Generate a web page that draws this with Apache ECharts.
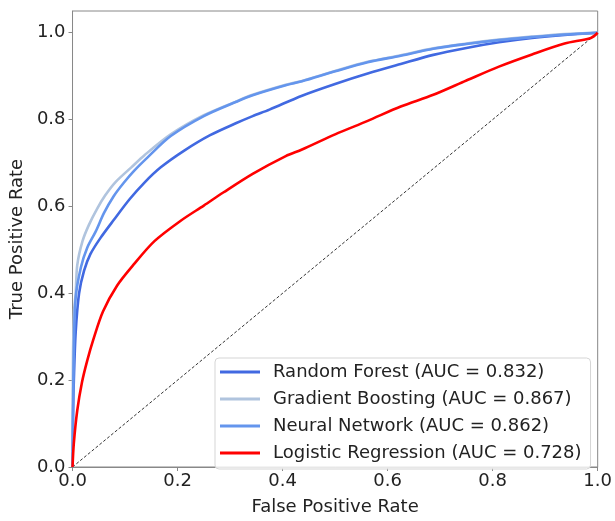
<!DOCTYPE html>
<html>
<head>
<meta charset="utf-8">
<script src="https://cdn.jsdelivr.net/npm/echarts@6/dist/echarts.min.js"></script>
<style>
html,body{margin:0;padding:0;background:#fff;}
#chart{width:615px;height:521px;}
</style>
</head>
<body>
<div id="chart"></div>
<script>
const seriesNames = [
  'Random Forest (AUC = 0.832)',
  'Gradient Boosting (AUC = 0.867)',
  'Neural Network (AUC = 0.862)',
  'Logistic Regression (AUC = 0.728)'
];
const tickValues = [0, 0.2, 0.4, 0.6, 0.8, 1.0];

const rfROC = [[0,0],[0.0005,0.06],[0.001,0.12],[0.0025,0.20],[0.006,0.31],[0.0125,0.40],[0.022,0.452],[0.034,0.49],[0.053,0.527],[0.078,0.568],[0.109,0.617],[0.137,0.655],[0.168,0.69],[0.212,0.728],[0.262,0.764],[0.312,0.792],[0.343,0.808],[0.375,0.823],[0.437,0.855],[0.5,0.882],[0.562,0.906],[0.625,0.928],[0.687,0.949],[0.75,0.965],[0.812,0.978],[0.875,0.988],[0.937,0.995],[1,1]];
const gbROC = [[0,0],[0.0005,0.15],[0.001,0.265],[0.003,0.36],[0.006,0.40],[0.009,0.465],[0.019,0.52],[0.031,0.557],[0.047,0.595],[0.062,0.625],[0.081,0.655],[0.112,0.69],[0.137,0.718],[0.187,0.766],[0.25,0.81],[0.312,0.842],[0.343,0.857],[0.406,0.88],[0.437,0.889],[0.5,0.912],[0.562,0.933],[0.625,0.948],[0.687,0.964],[0.75,0.975],[0.812,0.984],[0.875,0.991],[0.937,0.997],[1,1]];
const nnROC = [[0,0],[0.0005,0.07],[0.001,0.14],[0.0025,0.27],[0.006,0.39],[0.016,0.46],[0.028,0.505],[0.044,0.542],[0.060,0.585],[0.078,0.623],[0.098,0.655],[0.118,0.683],[0.143,0.713],[0.187,0.762],[0.25,0.808],[0.312,0.841],[0.343,0.856],[0.406,0.879],[0.437,0.888],[0.5,0.911],[0.562,0.932],[0.625,0.947],[0.687,0.963],[0.75,0.974],[0.812,0.983],[0.875,0.990],[0.937,0.996],[1,1]];
const lrROC = [[0,0],[0.0025,0.055],[0.009,0.13],[0.018,0.195],[0.028,0.245],[0.04,0.295],[0.058,0.358],[0.085,0.418],[0.117,0.467],[0.156,0.52],[0.206,0.567],[0.25,0.602],[0.287,0.632],[0.343,0.675],[0.406,0.716],[0.437,0.731],[0.5,0.766],[0.562,0.797],[0.625,0.83],[0.687,0.857],[0.75,0.89],[0.812,0.922],[0.875,0.95],[0.937,0.975],[0.987,0.988],[1,1]];
const chanceLine = [[0,0],[1,1]];

const colors = ['#4169E1', '#B0C4DE', '#6495ED', '#FF0000'];
const FONT = 'DejaVu Sans';
const FS = 18;

const chart = echarts.init(document.getElementById('chart'));
function curve(name, data, color) {
  return {
    name: name, type: 'line', data: data, showSymbol: false, symbol: 'none',
    smooth: 0.3,
    lineStyle: { color: color, width: 2.6 }, itemStyle: { color: color },
    animation: false
  };
}
chart.setOption({
  animation: false,
  textStyle: { fontFamily: FONT },
  grid: { left: 67, right: 15, top: 11, bottom: 43, show: true, borderColor: '#888', borderWidth: 1, containLabel: false },
  legend: {
    orient: 'vertical', left: 215, top: 358,
    padding: [4, 9, 6, 5], itemGap: 7,
    itemWidth: 40, itemHeight: 3, icon: 'rect',
    backgroundColor: 'rgba(255,255,255,0.8)', borderColor: '#d5d5d5', borderWidth: 1, borderRadius: 4,
    textStyle: { fontFamily: FONT, fontSize: FS, color: '#222', lineHeight: 20, padding: [0, 0, 0, 8] },
    data: seriesNames
  },
  xAxis: {
    type: 'value', min: 0, max: 1,
    name: 'False Positive Rate', nameLocation: 'middle', nameGap: 31,
    nameTextStyle: { fontFamily: FONT, fontSize: FS, color: '#222' },
    axisLine: { show: true, lineStyle: { color: '#888', width: 1 } },
    axisTick: { show: true, length: 4, lineStyle: { color: '#888' }, customValues: tickValues },
    axisLabel: { fontFamily: FONT, fontSize: FS, color: '#222', margin: 5, customValues: tickValues, formatter: v => v.toFixed(1) },
    splitLine: { show: false }
  },
  yAxis: {
    type: 'value', min: 0, max: 1.05,
    name: 'True Positive Rate', nameLocation: 'middle', nameGap: 42,
    nameTextStyle: { fontFamily: FONT, fontSize: FS, color: '#222' },
    axisLine: { show: true, lineStyle: { color: '#888', width: 1 } },
    axisTick: { show: true, length: 4, lineStyle: { color: '#888' }, customValues: tickValues },
    axisLabel: { fontFamily: FONT, fontSize: FS, color: '#222', margin: 7, customValues: tickValues, formatter: v => v.toFixed(1) },
    splitLine: { show: false }
  },
  series: [
    curve(seriesNames[0], rfROC, colors[0]),
    curve(seriesNames[1], gbROC, colors[1]),
    curve(seriesNames[2], nnROC, colors[2]),
    curve(seriesNames[3], lrROC, colors[3]),
    {
      name: 'chance', type: 'line', data: chanceLine, showSymbol: false, symbol: 'none',
      lineStyle: { color: '#333', width: 1, type: [3, 2] }, z: 1, silent: true
    }
  ]
});
</script>
</body>
</html>
